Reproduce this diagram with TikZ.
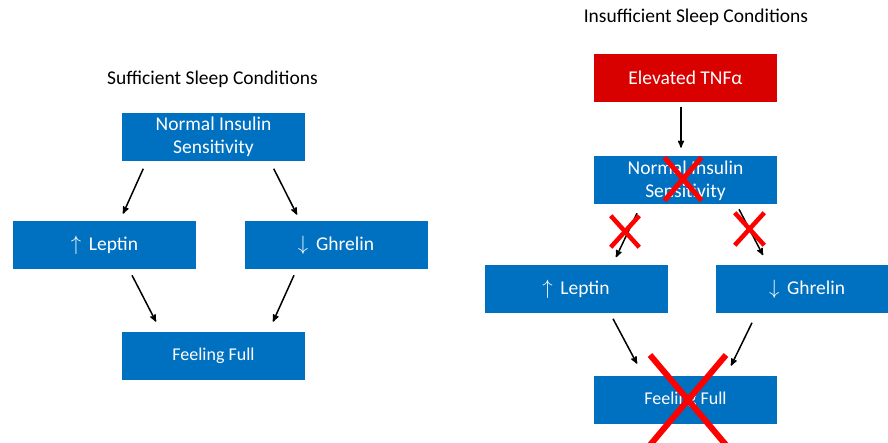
\documentclass[tikz,border=0pt]{standalone}
\usepackage{fontspec}
\setmainfont{Carlito}
\usepackage{tikz}
\usetikzlibrary{arrows,shapes.misc}

\definecolor{boxblue}{HTML}{0070C0}
\definecolor{boxred}{HTML}{D90000}
\definecolor{xred}{HTML}{FF0000}

\begin{document}
\begin{tikzpicture}[>=stealth',x=1pt,y=-1pt,line width=1.5pt,
	box/.style={rectangle,fill=boxblue,text=white,minimum width=183pt,minimum height=48pt,inner sep=1pt,align=center,font=\fontsize{19.5}{23}\selectfont},
	redbox/.style={box,fill=boxred},
	title/.style={font=\fontsize{19.5}{23}\selectfont},
	crossmark/.style={cross out,draw=xred,inner sep=0pt}]
	\useasboundingbox (0,0) rectangle (888,443);
	\clip (0,0) rectangle (888,443);

	% sufficient sleep
	\node[title]	(h1) at (212.5,79) {Sufficient Sleep Conditions};
	\node[box]	(n1) at (213.5,137) {Normal Insulin\\Sensitivity};
	\node[box]	(l1) at (104.5,245.5) {$\uparrow$\, Leptin};
	\node[box]	(g1) at (336,245.5) {$\downarrow$\, Ghrelin};
	\node[box,font=\fontsize{18}{20}\selectfont]	(f1) at (213.5,355.5) {Feeling Full};

	\path[->]
	([shift={(22,7)}]n1.south west) edge ([shift={(18.5,-7)}]l1.north)
	([shift={(-32,7)}]n1.south east) edge ([shift={(-39,-6)}]g1.north)
	([shift={(27.5,5)}]l1.south) edge ([shift={(-57.5,-9)}]f1.north)
	([shift={(-42,5)}]g1.south) edge ([shift={(59.5,-9)}]f1.north);

	% insufficient sleep
	\node[title]	(h2) at (696,17) {Insufficient Sleep Conditions};
	\node[redbox]	(t2) at (685.5,78) {Elevated TNFα};
	\node[box]	(n2) at (685.5,180.5) {Normal Insulin\\Sensitivity};
	\node[box]	(l2) at (576,289) {$\uparrow$\, Leptin};
	\node[box]	(g2) at (807,289) {$\downarrow$\, Ghrelin};
	\node[box,font=\fontsize{18}{20}\selectfont]	(f2) at (685.5,399.5) {Feeling Full};

	\path[->]
	([shift={(-4.5,4)}]t2.south) edge ([shift={(-4.5,-8)}]n2.north)
	([shift={(-48.5,8)}]n2.south) edge ([shift={(40,-7)}]l2.north)
	([shift={(53.5,4)}]n2.south) edge ([shift={(-44,-9)}]g2.north)
	([shift={(37,5)}]l2.south) edge ([shift={(-48.5,-11)}]f2.north)
	([shift={(-55,9)}]g2.south) edge ([shift={(45.5,-9)}]f2.north);

	% crossed out
	\node[crossmark,line width=5pt,minimum width=32pt,minimum height=38pt]	(x1) at (683,179) {};
	\node[crossmark,line width=4.5pt,minimum width=24pt,minimum height=27pt]	(x2) at (625,231.5) {};
	\node[crossmark,line width=4.5pt,minimum width=25pt,minimum height=28pt]	(x3) at (749.5,229) {};
	\node[crossmark,line width=6pt,minimum width=70pt,minimum height=84pt]	(x4) at (688,400) {};
\end{tikzpicture}
\end{document}
